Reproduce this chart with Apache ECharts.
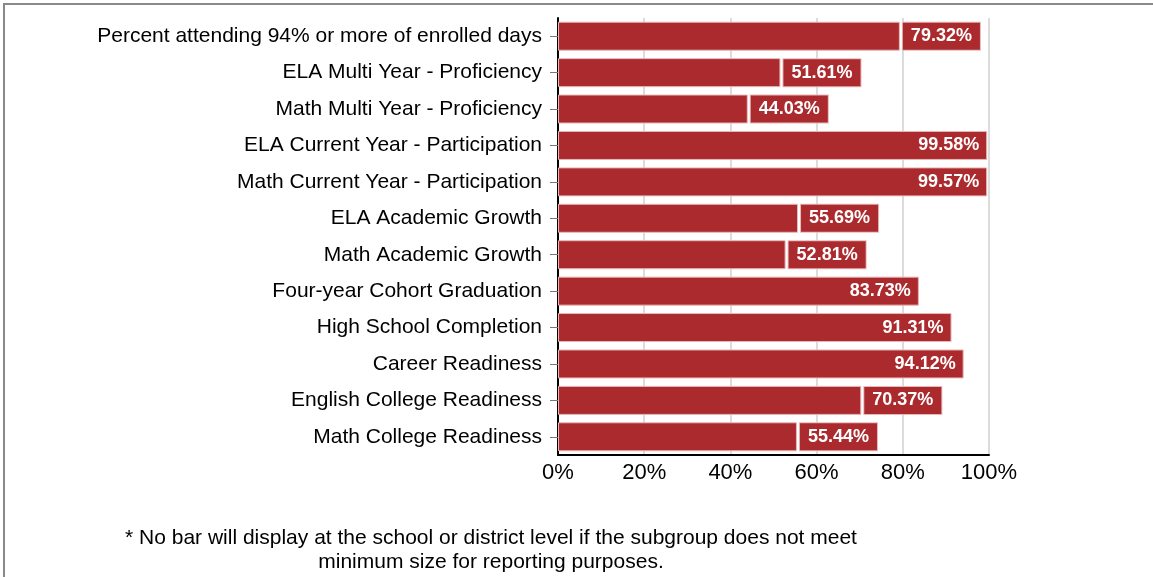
<!DOCTYPE html>
<html>
<head>
<meta charset="utf-8">
<script src="https://cdn.jsdelivr.net/npm/echarts@6/dist/echarts.min.js"></script>
<style>
  html, body { margin: 0; padding: 0; background: #fff; }
  #chart { width: 1153px; height: 577px; }
</style>
</head>
<body>
<div id="chart"></div>
<script>
// categories top to bottom
const categories = [
  'Percent attending 94% or more of enrolled days',
  'ELA Multi Year - Proficiency',
  'Math Multi Year - Proficiency',
  'ELA Current Year - Participation',
  'Math Current Year - Participation',
  'ELA Academic Growth',
  'Math Academic Growth',
  'Four-year Cohort Graduation',
  'High School Completion',
  'Career Readiness',
  'English College Readiness',
  'Math College Readiness'
]
const values = [79.32, 51.61, 44.03, 99.58, 99.57, 55.69, 52.81, 83.73, 91.31, 94.12, 70.37, 55.44]
const xTicks = [0, 20, 40, 60, 80, 100]
const footnote = [
  '* No bar will display at the school or district level if the subgroup does not meet',
  'minimum size for reporting purposes.'
]

const red = '#ab2a2e'
const font = '"Liberation Sans", Arial, sans-serif'

// long bars get the label inside, short ones a red tag outside
const barData = values.map(v => {
  const inside = v > 80
  return {
    value: v,
    label: inside
      ? { position: 'insideRight', distance: 8 }
      : {
          position: 'right',
          distance: 3,
          backgroundColor: red,
          borderColor: '#e9b8b8',
          borderWidth: 1,
          padding: [0, 8, 0, 8],
          height: 27,
          lineHeight: 27
        }
  }
})

const chart = echarts.init(document.getElementById('chart'))
chart.setOption({
  animation: false,
  grid: { left: 558, right: 164, top: 18, bottom: 122, containLabel: false },
  xAxis: {
    type: 'value',
    min: 0,
    max: 100,
    interval: 20,
    axisLine: { show: true, lineStyle: { color: '#000', width: 2 } },
    axisTick: { show: false },
    axisLabel: {
      color: '#000',
      fontFamily: font,
      fontSize: 22,
      margin: 7,
      formatter: v => xTicks.indexOf(v) >= 0 ? v + '%' : ''
    },
    splitLine: { show: true, lineStyle: { color: '#dcdcdc', width: 2 } }
  },
  yAxis: {
    type: 'category',
    inverse: true,
    data: categories,
    axisLine: { show: true, lineStyle: { color: '#000', width: 2 } },
    axisTick: { show: true, alignWithLabel: true, length: 8, lineStyle: { color: '#777', width: 1 } },
    axisLabel: { color: '#000', fontFamily: font, fontSize: 21, margin: 16 }
  },
  series: [{
    type: 'bar',
    data: barData,
    barWidth: 29,
    itemStyle: { color: red, borderColor: '#e9b8b8', borderWidth: 1 },
    label: {
      show: true,
      color: '#fff',
      fontFamily: font,
      fontWeight: 'bold',
      fontSize: 18,
      formatter: p => p.value.toFixed(2) + '%'
    }
  }],
  graphic: [
    {
      type: 'rect',
      shape: { x: 4, y: 4, width: 1300, height: 700 },
      style: { fill: 'none', stroke: '#8a8a8a', lineWidth: 2 },
      silent: true
    },
    {
      type: 'text',
      x: 491,
      y: 538,
      style: {
        text: footnote[0], fill: '#000', font: '21px ' + font,
        textAlign: 'center', textVerticalAlign: 'middle'
      }
    },
    {
      type: 'text',
      x: 491,
      y: 562,
      style: {
        text: footnote[1], fill: '#000', font: '21px ' + font,
        textAlign: 'center', textVerticalAlign: 'middle'
      }
    }
  ]
})
</script>
</body>
</html>
